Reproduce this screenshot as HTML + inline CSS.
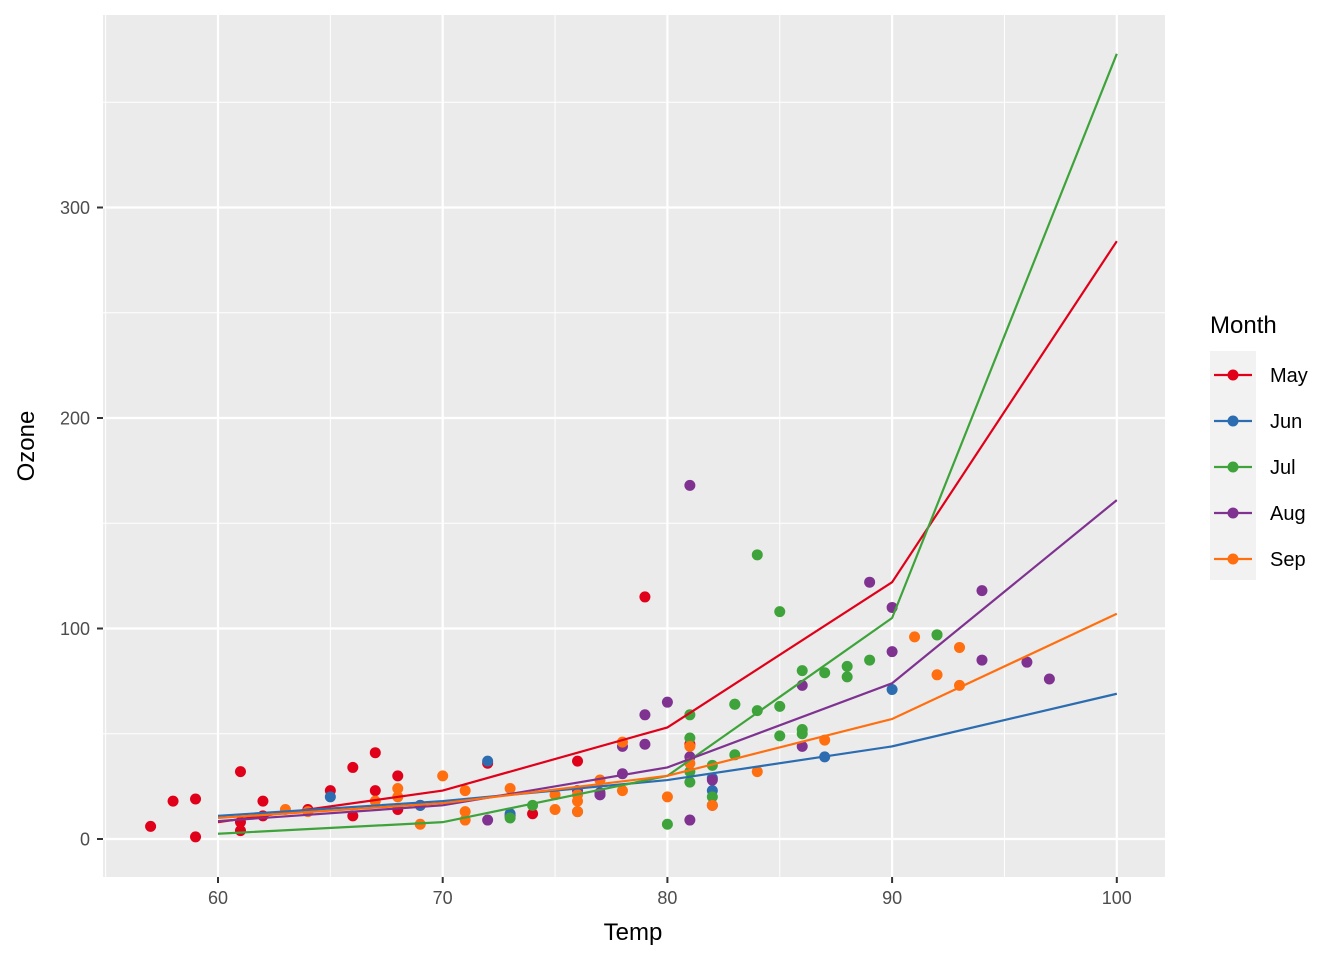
<!DOCTYPE html>
<html><head><meta charset="utf-8"><style>
html,body{margin:0;padding:0;background:#fff;}
svg{display:block;font-family:"Liberation Sans",Arial,sans-serif;}
</style></head><body>
<svg id="s" width="1344" height="960" xmlns="http://www.w3.org/2000/svg">
<rect x="0" y="0" width="1344" height="960" fill="#fff"/>
<rect x="103" y="15" width="1062" height="862" fill="#EBEBEB"/>
<g id="grid"></g>
<g id="pts"></g>
<g id="lines" fill="none" stroke-width="2.2"></g>
<g id="axes" font-size="18" fill="#4D4D4D"></g>
<text x="633" y="940" font-size="24" text-anchor="middle" fill="#000">Temp</text>
<text transform="translate(34,446) rotate(-90)" font-size="24" text-anchor="middle" fill="#000">Ozone</text>
<text x="1210" y="333" font-size="24" fill="#000">Month</text>
<rect x="1210" y="351" width="46" height="229" fill="#F2F2F2"/>
<g id="leg"></g>
</svg>
<script>
var X=function(v){return 218+(v-60)*22.47;};
var Y=function(v){return 839-v*2.105;};
var ns="http://www.w3.org/2000/svg";
function el(p,t,a,txt){var e=document.createElementNS(ns,t);for(var k in a)e.setAttribute(k,a[k]);if(txt!=null)e.textContent=txt;document.getElementById(p).appendChild(e);return e;}
[55,65,75,85,95].forEach(function(v){el("grid","line",{x1:X(v),x2:X(v),y1:15,y2:877,stroke:"#fff","stroke-width":1});});
[50,150,250,350].forEach(function(v){el("grid","line",{x1:103,x2:1165,y1:Y(v),y2:Y(v),stroke:"#fff","stroke-width":1});});
[60,70,80,90,100].forEach(function(v){el("grid","line",{x1:X(v),x2:X(v),y1:15,y2:877,stroke:"#fff","stroke-width":2.2});
 el("axes","line",{x1:X(v),x2:X(v),y1:877,y2:883,stroke:"#333","stroke-width":2});
 el("axes","text",{x:X(v),y:904,"text-anchor":"middle"},String(v));});
[0,100,200,300].forEach(function(v){el("grid","line",{x1:103,x2:1165,y1:Y(v),y2:Y(v),stroke:"#fff","stroke-width":2.2});
 el("axes","line",{x1:97,x2:103,y1:Y(v),y2:Y(v),stroke:"#333","stroke-width":2});
 el("axes","text",{x:90,y:Y(v)+6.5,"text-anchor":"end"},String(v));});
var C={5:"#E0001A",6:"#2C6CB0",7:"#3EA33A",8:"#7F3290",9:"#FF6F0F"};
var D={
5:[[41,67],[36,72],[12,74],[18,62],[23,65],[19,59],[8,61],[16,69],[11,66],[14,68],[18,58],[14,64],[34,66],[6,57],[30,68],[11,62],[1,59],[11,73],[4,61],[32,61],[23,67],[45,81],[115,79],[37,76]],
6:[[29,82],[71,90],[39,87],[23,82],[21,77],[37,72],[20,65],[12,73],[13,76],[16,69]],
7:[[135,84],[49,85],[32,81],[64,83],[40,83],[77,88],[97,92],[97,92],[85,89],[10,73],[27,81],[7,80],[48,81],[35,82],[61,84],[79,87],[63,85],[16,74],[80,86],[108,85],[20,82],[52,86],[82,88],[50,86],[64,83],[59,81]],
8:[[39,81],[9,81],[16,82],[122,89],[89,90],[110,90],[44,86],[28,82],[65,80],[22,77],[59,79],[23,76],[31,78],[44,78],[21,77],[9,72],[45,79],[168,81],[73,86],[76,97],[118,94],[84,96],[85,94]],
9:[[96,91],[78,92],[73,93],[91,93],[47,87],[32,84],[20,80],[23,78],[21,75],[24,73],[44,81],[21,76],[28,77],[9,71],[13,71],[46,78],[18,67],[13,76],[24,68],[16,82],[13,64],[23,71],[36,81],[7,69],[14,63],[30,70],[14,75],[18,76],[20,68]]};
[5,6,7,8,9].forEach(function(m){D[m].forEach(function(p){el("pts","circle",{cx:X(p[1]),cy:Y(p[0]),r:5.5,fill:C[m]});});});
var L={5:[8,23,53,122,284],6:[11,18,28,44,69],7:[2.5,8,30,105,373],8:[8.5,16,34,74,161],9:[10,17,30,57,107]};
[5,6,7,8,9].forEach(function(m){var s=L[m].map(function(v,i){return X(60+10*i)+","+Y(v);}).join(" ");el("lines","polyline",{points:s,stroke:C[m]});});
var names={5:"May",6:"Jun",7:"Jul",8:"Aug",9:"Sep"};
[5,6,7,8,9].forEach(function(m,i){var y=375+i*46;
 el("leg","line",{x1:1214,x2:1252,y1:y,y2:y,stroke:C[m],"stroke-width":2.2});
 el("leg","circle",{cx:1233,cy:y,r:5.5,fill:C[m]});
 el("leg","text",{x:1270,y:y+7,"font-size":20,fill:"#000"},names[m]);});
</script>
</body></html>
